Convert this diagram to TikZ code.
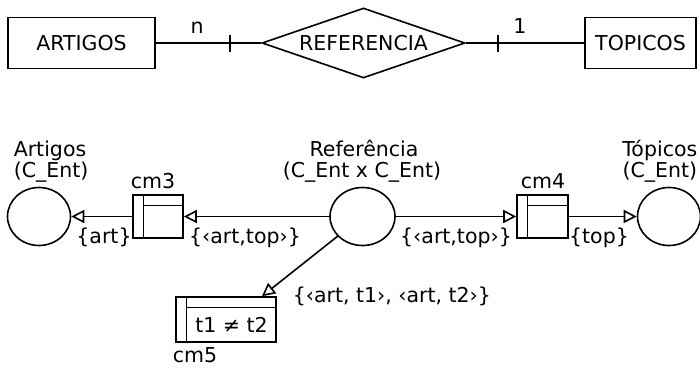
\documentclass[tikz,border=0pt]{standalone}
\usepackage{fontspec}
\setmainfont{DejaVu Sans}
\usetikzlibrary{arrows.meta,shapes.geometric}
\begin{document}
\begin{tikzpicture}[x=1pt,y=-1pt,line width=1.6pt,
  every node/.style={font=\fontsize{20.5}{24}\selectfont, inner sep=0pt},
  ent/.style={draw, rectangle, minimum height=51pt},
  relship/.style={draw, diamond, aspect=3, minimum width=203pt, minimum height=70pt},
  place/.style={draw, ellipse, minimum width=63pt, minimum height=58pt},
  trans/.style={draw, rectangle, path picture={
     \draw ([xshift=10.5pt]path picture bounding box.north west) -- ([xshift=10.5pt]path picture bounding box.south west);
     \draw ([xshift=10.5pt,yshift=-10.5pt]path picture bounding box.north west) -- ([yshift=-10.5pt]path picture bounding box.north east);}},
  lbl/.style={anchor=base},
  lblw/.style={anchor=base west},
  lble/.style={anchor=base east},
  arc/.style={-{Triangle[open,length=13pt,width=13pt]}},
  tickmark/.style={line width=1.8pt}]
\useasboundingbox (0,0) rectangle (700,367);

% ER part
\node[ent, minimum width=147pt] (artE) at (81.5,43) {ARTIGOS};
\node[relship] (refR) at (363.5,43) {REFERENCIA};
\node[ent, minimum width=111pt] (topE) at (640.5,43) {TOPICOS};
\draw (artE) -- (refR);
\draw (refR) -- (topE);
\coordinate (t1a) at (230,35); \coordinate (t1b) at (230,52);
\coordinate (t2a) at (498,35); \coordinate (t2b) at (498,52);
\draw[tickmark] (t1a) -- (t1b);
\draw[tickmark] (t2a) -- (t2b);
\node[lbl] (cardn) at (197,33) {n};
\node[lbl] (card1) at (520,33) {1};

% Net part
\node[place] (pA) at (39,216.5) {};
\node[place, minimum width=65pt] (pR) at (362.5,216.5) {};
\node[place] (pT) at (669,216.5) {};
\node[trans, minimum width=50pt, minimum height=43pt] (cm3) at (158,216.5) {};
\node[trans, minimum width=51pt, minimum height=43pt] (cm4) at (542.5,216.5) {};
\node[trans, minimum width=100pt, minimum height=45pt] (cm5) at (226,319.5) {};
\node (g5) at ([xshift=5.5pt,yshift=-5.5pt]cm5.center) {t1 ≠ t2};
\coordinate (cm5in) at ([xshift=36pt]cm5.north);

\draw[arc] (cm3) -- (pA);
\draw[arc] (pR) -- (cm3);
\draw[arc] (pR) -- (cm4);
\draw[arc] (cm4) -- (pT);
\draw[arc] (pR) -- (cm5in);

% place labels
\node[lblw] (lA1) at (13,156) {Artigos};
\node[lblw] (lA2) at (13,177) {(C\_Ent)};
\node[lbl] (lR1) at (364,156) {Referência};
\node[lbl] (lR2) at (362,177) {(C\_Ent x C\_Ent)};
\node[lble] (lT1) at (698,156) {Tópicos};
\node[lble] (lT2) at (698,177) {(C\_Ent)};

% transition labels
\node[lbl] (l3) at (153,188) {cm3};
\node[lbl] (l4) at (543,188) {cm4};
\node[lbl] (l5) at (195,362) {cm5};

% arc labels
\node[lbl] (a1) at (104,243) {\{art\}};
\node[lbl] (a2) at (245,243) {\{‹art,top›\}};
\node[lbl] (a3) at (456,243) {\{‹art,top›\}};
\node[lbl] (a4) at (599,243) {\{top\}};
\node[lblw] (a5) at (292,302) {\{‹art, t1›, ‹art, t2›\}};
\end{tikzpicture}
\end{document}
